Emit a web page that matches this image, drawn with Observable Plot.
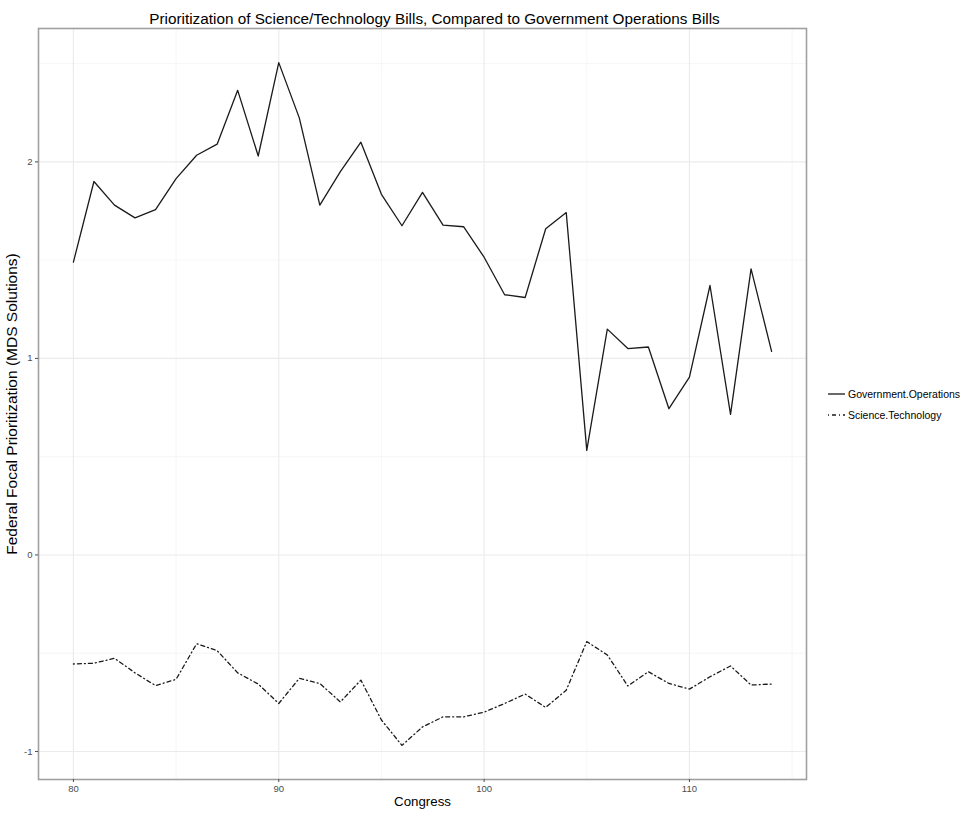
<!DOCTYPE html>
<html>
<head>
<meta charset="utf-8">
<script src="https://cdn.jsdelivr.net/npm/d3@7"></script>
<script src="https://cdn.jsdelivr.net/npm/@observablehq/plot@0.6"></script>
<style>
  html, body { margin: 0; padding: 0; background: #fff; }
  #chart { width: 977px; height: 820px; }
  svg { font-family: "Liberation Sans", Arial, Helvetica, sans-serif; }
</style>
</head>
<body>
<div id="chart"></div>
<script>
const congress = [80,81,82,83,84,85,86,87,88,89,90,91,92,93,94,95,96,97,98,99,100,101,102,103,104,105,106,107,108,109,110,111,112,113,114];
const governmentOperations = [1.49,1.90,1.78,1.715,1.757,1.915,2.034,2.09,2.364,2.03,2.505,2.224,1.78,1.95,2.10,1.835,1.675,1.845,1.678,1.67,1.515,1.324,1.31,1.66,1.742,0.532,1.149,1.05,1.058,0.744,0.905,1.371,0.715,1.456,1.036];
const scienceTechnology = [-0.555,-0.551,-0.526,-0.60,-0.665,-0.633,-0.452,-0.487,-0.60,-0.657,-0.756,-0.628,-0.654,-0.748,-0.637,-0.84,-0.969,-0.875,-0.824,-0.824,-0.80,-0.756,-0.708,-0.776,-0.688,-0.441,-0.509,-0.667,-0.594,-0.654,-0.683,-0.62,-0.565,-0.662,-0.657];
const seriesNames = ["Government.Operations", "Science.Technology"];
const seriesDash = ["none", "1,3,4,3"];
const xMajor = [80, 90, 100, 110];
const xMinor = [85, 95, 105, 115];
const yMajor = [-1, 0, 1, 2];
const yMinor = [-0.5, 0.5, 1.5, 2.5];
const title = "Prioritization of Science/Technology Bills, Compared to Government Operations Bills";
const xTitle = "Congress";
const yTitle = "Federal Focal Prioritization (MDS Solutions)";

const rows = [];
congress.forEach((c, i) => {
  rows.push({congress: c, value: governmentOperations[i], series: seriesNames[0]});
  rows.push({congress: c, value: scienceTechnology[i], series: seriesNames[1]});
});

const allVals = governmentOperations.concat(scienceTechnology);
const yMin = d3.min(allVals), yMax = d3.max(allVals);
const yPad = (yMax - yMin) * 0.05;
const xMin = d3.min(congress), xMax = d3.max(congress);
const xPad = (xMax - xMin) * 0.05;

const chart = Plot.plot({
  width: 977,
  height: 820,
  marginLeft: 38,
  marginRight: 171,
  marginTop: 28,
  marginBottom: 41,
  style: {fontFamily: '"Liberation Sans", Arial, Helvetica, sans-serif', background: "#fff"},
  x: {domain: [xMin - xPad, xMax + xPad]},
  y: {domain: [yMin - yPad, yMax + yPad]},
  marks: [
    Plot.gridX(xMinor, {stroke: "#f0f0f0", strokeOpacity: 1, strokeWidth: 0.6}),
    Plot.gridY(yMinor, {stroke: "#f0f0f0", strokeOpacity: 1, strokeWidth: 0.6}),
    Plot.gridX(xMajor, {stroke: "#ebebeb", strokeOpacity: 1, strokeWidth: 1.1}),
    Plot.gridY(yMajor, {stroke: "#ebebeb", strokeOpacity: 1, strokeWidth: 1.1}),
    Plot.line(rows.filter(d => d.series === seriesNames[0]), {x: "congress", y: "value", stroke: "#1a1a1a", strokeWidth: 1.3}),
    Plot.line(rows.filter(d => d.series === seriesNames[1]), {x: "congress", y: "value", stroke: "#1a1a1a", strokeWidth: 1.3, strokeDasharray: seriesDash[1]}),
    Plot.frame({stroke: "#a0a0a0", strokeWidth: 1.6}),
    Plot.axisX(xMajor, {tickSize: 3, tickPadding: 3, fontSize: 9.5, color: "#4d4d4d", stroke: "#4d4d4d", label: null, tickFormat: d => String(d)}),
    Plot.axisY(yMajor, {tickSize: 3, tickPadding: 3, fontSize: 9.5, color: "#4d4d4d", stroke: "#4d4d4d", label: null, tickFormat: d => String(d)}),
    Plot.text([title], {frameAnchor: "top", dy: -15, dx: 12, text: d => d, fontSize: 15.3, fill: "#000"}),
    Plot.text([xTitle], {frameAnchor: "bottom", dy: 26, text: d => d, fontSize: 13.3, fill: "#000"}),
    Plot.text([yTitle], {frameAnchor: "left", dx: -26, rotate: -90, textAnchor: "middle", text: d => d, fontSize: 15.5, fill: "#000"})
  ]
});

// legend
const svg = d3.select(chart);
const leg = svg.append("g").attr("transform", "translate(828,394)");
seriesNames.forEach((name, i) => {
  const g = leg.append("g").attr("transform", `translate(0,${i * 21})`);
  g.append("line").attr("x1", 0).attr("x2", 17).attr("y1", 0).attr("y2", 0)
    .attr("stroke", "#1a1a1a").attr("stroke-width", 1.3)
    .attr("stroke-dasharray", seriesDash[i]);
  g.append("text").attr("x", 20).attr("y", 0).attr("dy", "0.35em")
    .attr("text-anchor", "start")
    .attr("font-size", 10.5).attr("fill", "#000").text(name);
});

document.getElementById("chart").appendChild(chart);
</script>
</body>
</html>
